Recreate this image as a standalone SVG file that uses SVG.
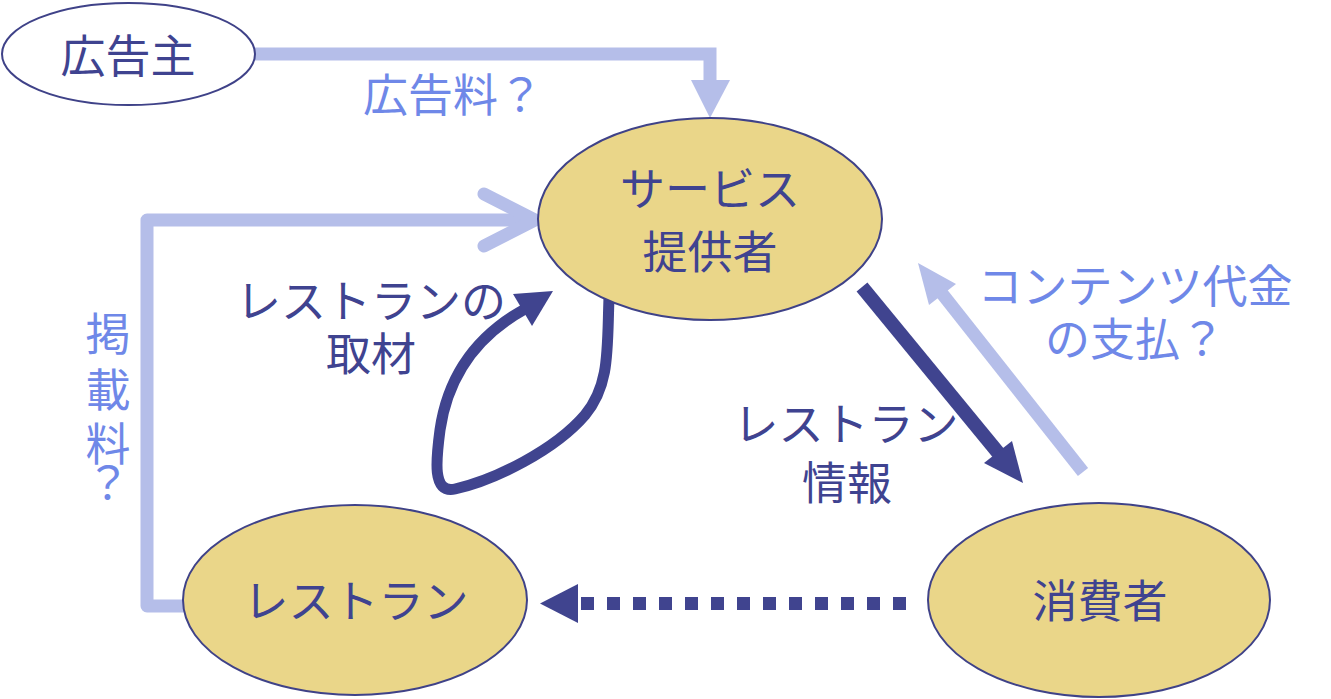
<svg xmlns="http://www.w3.org/2000/svg" width="1331" height="699" viewBox="0 0 1331 699">
<style>
.node{fill:#ead689;stroke:#3f4288;stroke-width:2}
.t{font-family:"Noto Sans CJK JP","Liberation Sans",sans-serif;font-size:45px;fill:#3f4390;text-anchor:middle}
.lt{font-family:"Noto Sans CJK JP","Liberation Sans",sans-serif;font-size:45px;fill:#6f88e8;text-anchor:middle}
.light{stroke:#b5bee9;fill:none}
.dark{stroke:#40448f;fill:none}
</style>
<rect width="1331" height="699" fill="#ffffff"/>
<g id="connectors">
  <polyline class="light" points="255,54 710,54 710,84" stroke-width="13"/>
  <polygon points="691,80 730,80 710,118" fill="#b5bee9"/>
  <polyline class="light" points="183,606 147,606 147,220 533,220" stroke-width="13" stroke-linejoin="round" stroke-linecap="round"/>
  <polyline class="light" points="484,194 535,220 484,246" stroke-width="13" stroke-linejoin="round" stroke-linecap="round"/>
  <path class="dark" d="M609,298 C607,350 610,385 585,415 C555,450 495,480 455,489 C432,494 436,460 440,430 C448,375 478,335 525,309" stroke-width="11"/>
  <polygon points="553,291 513,294 532,326" fill="#40448f"/>
  <line class="dark" x1="862" y1="287" x2="1000" y2="455" stroke-width="14"/>
  <polygon points="1023,483 984,463 1012,441" fill="#40448f"/>
  <line class="light" x1="1083" y1="472" x2="940" y2="291" stroke-width="13"/>
  <polygon points="918,263 956,284 929,305" fill="#b5bee9"/>
  <line class="dark" x1="906" y1="603.5" x2="578" y2="603.5" stroke-width="13" stroke-dasharray="13 13"/>
  <polygon points="540,603.5 578,584 578,623" fill="#40448f"/>
</g>
<g id="advertiser">
  <ellipse cx="128.5" cy="54" rx="126.5" ry="51" fill="#ffffff" stroke="#3f4288" stroke-width="2"/>
  <text class="t" x="128" y="73" font-size="47">広告主</text>
</g>
<g id="provider">
  <ellipse class="node" cx="710" cy="219" rx="172" ry="101"/>
  <text class="t" font-size="46"><tspan x="710" y="206">サービス</tspan><tspan x="710" y="269">提供者</tspan></text>
</g>
<g id="restaurant">
  <ellipse class="node" cx="355" cy="600" rx="172" ry="95"/>
  <text class="t" x="356" y="618">レストラン</text>
</g>
<g id="consumer">
  <ellipse class="node" cx="1099" cy="600" rx="171" ry="97"/>
  <text class="t" x="1100" y="618">消費者</text>
</g>
<g id="labels">
  <text class="lt" x="453" y="112" font-size="46">広告料？</text>
  <text class="lt"><tspan x="108" y="351">掲</tspan><tspan x="108" y="407">載</tspan><tspan x="108" y="461">料</tspan><tspan x="108" y="500">？</tspan></text>
  <text class="t"><tspan x="371" y="318">レストランの</tspan><tspan x="371" y="371">取材</tspan></text>
  <text class="t"><tspan x="846" y="441">レストラン</tspan><tspan x="847" y="500">情報</tspan></text>
  <text class="lt"><tspan x="1135" y="303">コンテンツ代金</tspan><tspan x="1135" y="356">の支払？</tspan></text>
</g>
</svg>
